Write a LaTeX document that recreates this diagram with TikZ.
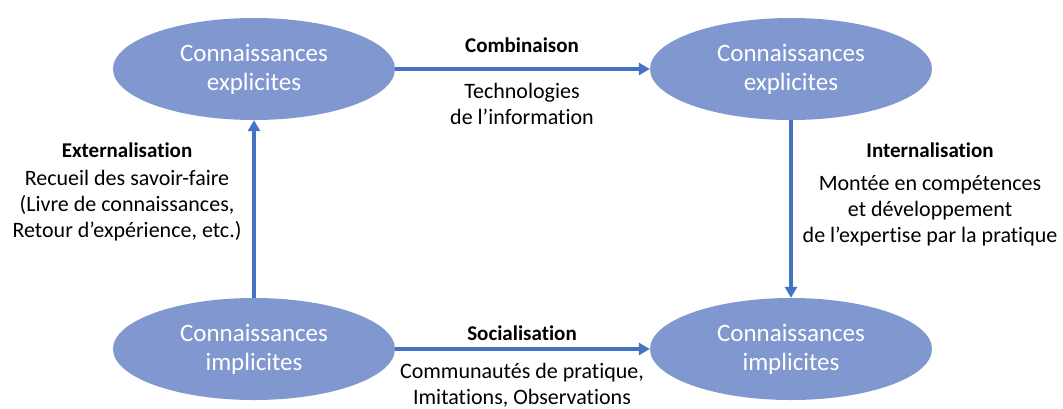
\documentclass[tikz,border=0pt]{standalone}
\usepackage{fontspec}
\setmainfont{Carlito}[Ligatures={NoCommon}]
\usetikzlibrary{shapes.geometric,arrows.meta}
\definecolor{ellfill}{RGB}{128,151,207}
\definecolor{arrblue}{RGB}{68,114,196}
\tikzset{
  know/.style={ellipse, fill=ellfill, minimum width=282pt, minimum height=102pt, inner sep=0pt,
    text=white, align=center, font=\fontsize{25}{29}\selectfont},
  flow/.style={draw=arrblue, line width=3.5pt, -{Triangle[length=11pt,width=12pt]}},
  title/.style={font=\fontsize{21}{24}\bfseries\selectfont, align=center, inner sep=0pt},
  desc/.style={font=\fontsize{22}{26}\selectfont, align=center, inner sep=0pt}
}
\begin{document}
\begin{tikzpicture}[x=1pt,y=-1pt]
\useasboundingbox (0,0) rectangle (1063,408);
\node[know] (tl) at (254,69) {Connaissances\\explicites};
\node[know] (tr) at (791,69) {Connaissances\\explicites};
\node[know] (bl) at (254,349) {Connaissances\\implicites};
\node[know] (br) at (791,349) {Connaissances\\implicites};
\draw[flow] (tl.east) -- (tr.west);
\draw[flow] (bl.east) -- (br.west);
\draw[flow] (bl.north) -- (tl.south);
\draw[flow] (tr.south) -- (br.north);
\node[title] (comb) at (522,45) {Combinaison};
\node[desc] (combd) at (522,104) {Technologies\\de l’information};
\node[title] (ext) at (127,150) {Externalisation};
\node[desc] (extd) at (127,206) {Recueil des savoir-faire\\(Livre de connaissances,\\Retour d’expérience, etc.)};
\node[title] (int) at (930,150) {Internalisation};
\node[desc] (intd) at (930,211) {Montée en compétences\\et développement\\de l’expertise par la pratique};
\node[title] (soc) at (522,333) {Socialisation};
\node[desc] (socd) at (522,385) {Communautés de pratique,\\Imitations, Observations};
\end{tikzpicture}
\end{document}
